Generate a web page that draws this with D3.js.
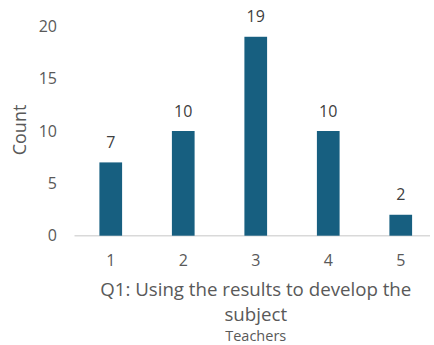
<!DOCTYPE html>
<html>
<head>
<meta charset="utf-8">
<script src="https://cdn.jsdelivr.net/npm/d3@7"></script>
<style>
  html, body { margin: 0; padding: 0; background: #fff; }
  svg text { font-family: "Open Sans", "Noto Sans", sans-serif; }
</style>
</head>
<body>
<svg id="chart" width="434" height="345"></svg>
<script>
// Responses for Q1, counted per rating
const categories = ["1", "2", "3", "4", "5"];
const counts = [7, 10, 19, 10, 2];
const yTicks = [0, 5, 10, 15, 20];
const titleLines = ["Q1: Using the results to develop the", "subject"];
const subtitle = "Teachers";
const yLabel = "Count";

const svg = d3.select("#chart");
const plot = { left: 74.5, right: 437, top: 26.3, bottom: 235.7 };

const x = d3.scaleBand()
  .domain(categories)
  .range([plot.left, plot.right])
  .paddingInner(0.687)
  .paddingOuter(0.3435);

const y = d3.scaleLinear()
  .domain([0, 20])
  .range([plot.bottom, plot.top]);

const grey = "#595959";
const barColor = "#175f80";

// baseline
svg.append("line")
  .attr("x1", plot.left).attr("x2", 430)
  .attr("y1", y(0)).attr("y2", y(0))
  .attr("stroke", "#d9d9d9").attr("stroke-width", 1.5);

// y tick labels
svg.append("g").selectAll("text")
  .data(yTicks)
  .join("text")
  .attr("x", 57)
  .attr("y", d => y(d))
  .attr("dy", "0.35em")
  .attr("text-anchor", "end")
  .attr("font-size", 16)
  .attr("fill", grey)
  .text(d => d);

// bars
svg.append("g").selectAll("rect")
  .data(counts)
  .join("rect")
  .attr("x", (d, i) => x(categories[i]))
  .attr("width", x.bandwidth())
  .attr("y", d => y(d))
  .attr("height", d => y(0) - y(d))
  .attr("fill", barColor);

// value labels
svg.append("g").selectAll("text")
  .data(counts)
  .join("text")
  .attr("x", (d, i) => x(categories[i]) + x.bandwidth() / 2)
  .attr("y", d => y(d) - 20)
  .attr("dy", "0.35em")
  .attr("text-anchor", "middle")
  .attr("font-size", 16)
  .attr("fill", "#404040")
  .text(d => d);

// x tick labels
svg.append("g").selectAll("text")
  .data(categories)
  .join("text")
  .attr("x", d => x(d) + x.bandwidth() / 2)
  .attr("y", 260)
  .attr("dy", "0.35em")
  .attr("text-anchor", "middle")
  .attr("font-size", 16)
  .attr("fill", grey)
  .text(d => d);

// x title
const cx = (plot.left + plot.right) / 2;
svg.append("g").selectAll("text")
  .data(titleLines)
  .join("text")
  .attr("x", cx)
  .attr("y", (d, i) => 289 + i * 25)
  .attr("dy", "0.35em")
  .attr("text-anchor", "middle")
  .attr("font-size", 18.7)
  .attr("fill", grey)
  .text(d => d);

svg.append("text")
  .attr("x", cx)
  .attr("y", 336)
  .attr("dy", "0.35em")
  .attr("text-anchor", "middle")
  .attr("font-size", 14.5)
  .attr("fill", grey)
  .text(subtitle);

// y title
svg.append("text")
  .attr("transform", `translate(20,130) rotate(-90)`)
  .attr("dy", "0.35em")
  .attr("text-anchor", "middle")
  .attr("font-size", 18)
  .attr("fill", grey)
  .text(yLabel);
</script>
</body>
</html>
